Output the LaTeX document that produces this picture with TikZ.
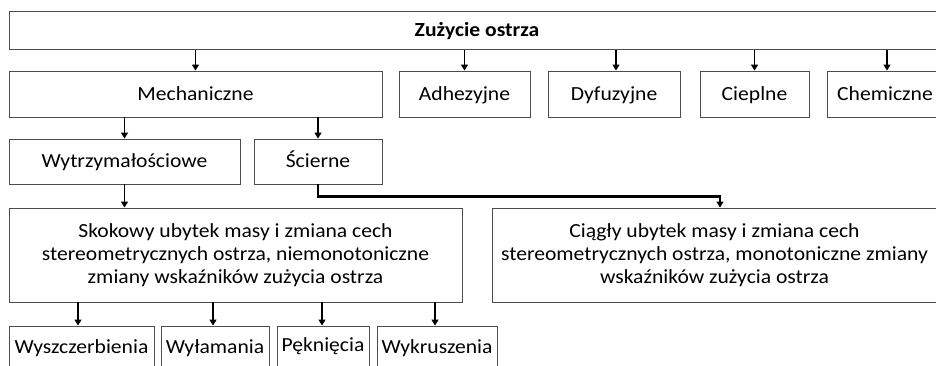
\documentclass[tikz,border=0pt]{standalone}
\usepackage{fontspec}
\setmainfont{Carlito}[FakeStretch=1.08]
\usetikzlibrary{arrows.meta}
\begin{document}
\begin{tikzpicture}[x=1pt,y=-1pt,
  box/.style={draw=black!70,line width=0.9pt,inner sep=0pt,align=center,
    font=\fontsize{20}{23.3}\selectfont},
  one/.style={text height=12.9pt,text depth=0pt},
  arr/.style={line width=1.9pt,-{Triangle[length=6pt,width=7pt]}},
  link/.style={line width=2.4pt,-{Triangle[length=6pt,width=7pt]}}]
\useasboundingbox (0,0) rectangle (936,366);
\clip (0,0) rectangle (936,366);
% row 1
\node[box,one,minimum width=936,minimum height=38,font=\fontsize{20}{23.3}\selectfont\bfseries] (top) at (477,30.5) {Zużycie ostrza};
% row 2
\node[box,one,minimum width=373,minimum height=46] (mech) at (195.5,94) {Mechaniczne};
\node[box,one,minimum width=131,minimum height=46] (adh) at (464.5,94) {Adhezyjne};
\node[box,one,minimum width=132,minimum height=46] (dyf) at (614,94) {Dyfuzyjne};
\node[box,one,minimum width=109,minimum height=46] (ciep) at (754.5,94) {Cieplne};
\node[box,one,minimum width=116,minimum height=46] (chem) at (885,94) {Chemiczne};
% row 3
\node[box,one,minimum width=231,minimum height=45] (wytrz) at (124.5,161.5) {Wytrzymałościowe};
\node[box,one,minimum width=128,minimum height=45] (scier) at (318,161.5) {Ścierne};
% row 4
\node[box,minimum width=453,minimum height=94] (skok) at (235.5,255) {Skokowy ubytek masy i zmiana cech\\stereometrycznych ostrza, niemonotoniczne\\zmiany wskaźników zużycia ostrza};
\node[box,minimum width=445,minimum height=94] (ciag) at (714.5,255) {Ciągły ubytek masy i zmiana cech\\stereometrycznych ostrza, monotoniczne zmiany\\wskaźników zużycia ostrza};
% row 5
\node[box,one,minimum width=145,minimum height=42] (wysz) at (81.5,347) {Wyszczerbienia};
\node[box,one,minimum width=108,minimum height=42] (wyl) at (215,347) {Wyłamania};
\node[box,minimum width=92,minimum height=42,text height=12.9pt,text depth=4pt] (pek) at (323,347) {Pęknięcia};
\node[box,one,minimum width=120,minimum height=42] (wykr) at (437,347) {Wykruszenia};
% connectors
\draw[arr] (top.south -| mech.north) -- (mech.north);
\draw[arr] (top.south -| adh.north) -- (adh.north);
\draw[arr] ([xshift=2pt]top.south -| dyf.north) -- ([xshift=2pt]dyf.north);
\draw[arr] (top.south -| ciep.north) -- (ciep.north);
\draw[arr] ([xshift=2pt]top.south -| chem.north) -- ([xshift=2pt]chem.north);
\draw[arr] (mech.south -| wytrz.north) -- (wytrz.north);
\draw[arr] (mech.south -| scier.north) -- (scier.north);
\draw[arr] (wytrz.south) -- (wytrz.south |- skok.north);
\draw[link] (scier.south) -- ++(0,12) -| ([xshift=5.5pt]ciag.north);
\draw[arr] ([xshift=-3.5pt]skok.south -| wysz.north) -- ([xshift=-3.5pt]wysz.north);
\draw[arr] ([xshift=-2pt]skok.south -| wyl.north) -- ([xshift=-2pt]wyl.north);
\draw[arr] ([xshift=-1pt]skok.south -| pek.north) -- ([xshift=-1pt]pek.north);
\draw[arr] ([xshift=-2pt]skok.south -| wykr.north) -- ([xshift=-2pt]wykr.north);
\end{tikzpicture}
\end{document}
